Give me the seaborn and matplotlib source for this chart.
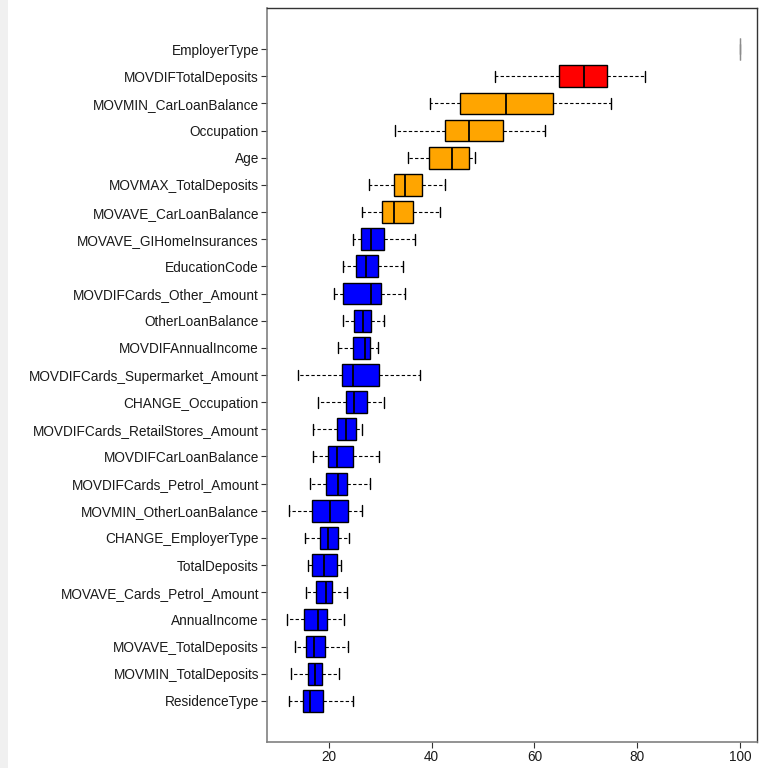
import numpy as np
import pandas as pd
import matplotlib
matplotlib.use("Agg")
import matplotlib.pyplot as plt
from matplotlib.patches import Rectangle
import seaborn as sns

# Feature importance summaries (min, Q1, median, Q3, max) per attribute
features = [
    "EmployerType", "MOVDIFTotalDeposits", "MOVMIN_CarLoanBalance", "Occupation",
    "Age", "MOVMAX_TotalDeposits", "MOVAVE_CarLoanBalance", "MOVAVE_GIHomeInsurances",
    "EducationCode", "MOVDIFCards_Other_Amount", "OtherLoanBalance", "MOVDIFAnnualIncome",
    "MOVDIFCards_Supermarket_Amount", "CHANGE_Occupation", "MOVDIFCards_RetailStores_Amount",
    "MOVDIFCarLoanBalance", "MOVDIFCards_Petrol_Amount", "MOVMIN_OtherLoanBalance",
    "CHANGE_EmployerType", "TotalDeposits", "MOVAVE_Cards_Petrol_Amount", "AnnualIncome",
    "MOVAVE_TotalDeposits", "MOVMIN_TotalDeposits", "ResidenceType",
]
imp_min = [100, 52.3, 39.7, 32.9, 35.3, 27.8, 26.4, 24.7, 22.65, 21.0, 22.65, 21.75,
           14.0, 17.8, 16.8, 16.8, 16.4, 12.2, 15.3, 15.9, 15.5, 11.9, 13.45, 12.55, 12.2]
imp_q1 = [100, 64.85, 45.5, 42.6, 39.4, 32.7, 30.35, 26.3, 25.2, 22.65, 24.8, 24.6,
          22.45, 23.4, 21.6, 19.8, 19.4, 16.7, 18.2, 16.7, 17.5, 15.1, 15.5, 15.9, 14.95]
imp_median = [100, 69.6, 54.5, 47.2, 44.0, 34.8, 32.7, 28.2, 27.3, 28.1, 26.7, 27.05,
              24.7, 24.8, 23.4, 21.5, 21.8, 20.3, 19.75, 19.0, 19.4, 17.9, 17.0, 17.35, 16.4]
imp_q3 = [100, 74.1, 63.6, 53.9, 47.2, 38.1, 36.3, 30.7, 29.5, 30.2, 28.1, 27.9,
          29.7, 27.4, 25.2, 24.7, 23.6, 23.8, 21.8, 21.5, 20.5, 19.7, 19.3, 18.6, 18.9]
imp_max = [100, 81.55, 74.9, 62.1, 48.5, 42.6, 41.7, 36.7, 34.4, 34.8, 30.7, 29.6,
           37.8, 30.7, 26.4, 29.8, 27.9, 26.4, 23.9, 22.3, 23.6, 22.85, 23.75, 21.9, 24.7]
tier = ["fixed", "top"] + ["high"] * 5 + ["base"] * 18

tier_colors = {"fixed": "#808080", "top": "#FF0000", "high": "#FFA500", "base": "#0000FF"}

# Long-form table: five points per feature reproduce the five-number summary
rows = []
for f, lo, a, m, b, hi in zip(features, imp_min, imp_q1, imp_median, imp_q3, imp_max):
    for v in (lo, a, m, b, hi):
        rows.append({"feature": f, "importance": v})
df = pd.DataFrame(rows)
palette = {f: tier_colors[t] for f, t in zip(features, tier)}

sns.set_theme(style="white")
plt.rcParams["font.family"] = ["Liberation Sans", "DejaVu Sans"]

fig = plt.figure(figsize=(7.6, 7.68), dpi=100)
fig.patches.append(Rectangle((0, 0), 8 / 760, 1, transform=fig.transFigure,
                             facecolor="#f0f0f0", edgecolor="none", zorder=0))
ax = fig.add_axes([267.3 / 760, 1 - 741.7 / 768, 490 / 760, 733.4 / 768])

sns.boxplot(
    data=df, x="importance", y="feature", hue="feature", order=features,
    palette=palette, legend=False, whis=(0, 100), width=0.8, saturation=1,
    linecolor="black", linewidth=1.0, ax=ax,
    boxprops=dict(edgecolor="black", linewidth=1.0),
    medianprops=dict(color="black", linewidth=1.3),
    whiskerprops=dict(color="black", linewidth=0.8, linestyle=(0, (3, 2))),
    capprops=dict(color="black", linewidth=1.0),
)

# The constant-valued attribute collapses to a single grey stroke
for patch in ax.patches:
    ext = patch.get_path().vertices
    if patch.get_extents().width < 2:
        patch.set_edgecolor("#8c8c8c")
        patch.set_linewidth(0.9)
for line in ax.lines:
    xd = np.asarray(line.get_xdata(), dtype=float)
    if xd.size and np.allclose(xd, imp_median[0]):
        line.set_color("#8c8c8c")
        line.set_linewidth(0.9)

ax.set_xlim(8.0, 103.37)
ax.set_ylim(25.5, -1.5)
ax.set_xticks([20, 40, 60, 80, 100])
ax.set_xlabel("")
ax.set_ylabel("")
ax.tick_params(axis="both", which="both", direction="out", length=4, width=0.8,
               labelsize=9.8, color="#333333", labelcolor="#1a1a1a", pad=2,
               left=True, bottom=True)
for side in ("left", "bottom"):
    ax.spines[side].set_color("#808080")
    ax.spines[side].set_linewidth(1.2)
for side in ("top", "right"):
    ax.spines[side].set_color("#333333")
    ax.spines[side].set_linewidth(1.0)

fig.savefig("out.png", dpi=100)
